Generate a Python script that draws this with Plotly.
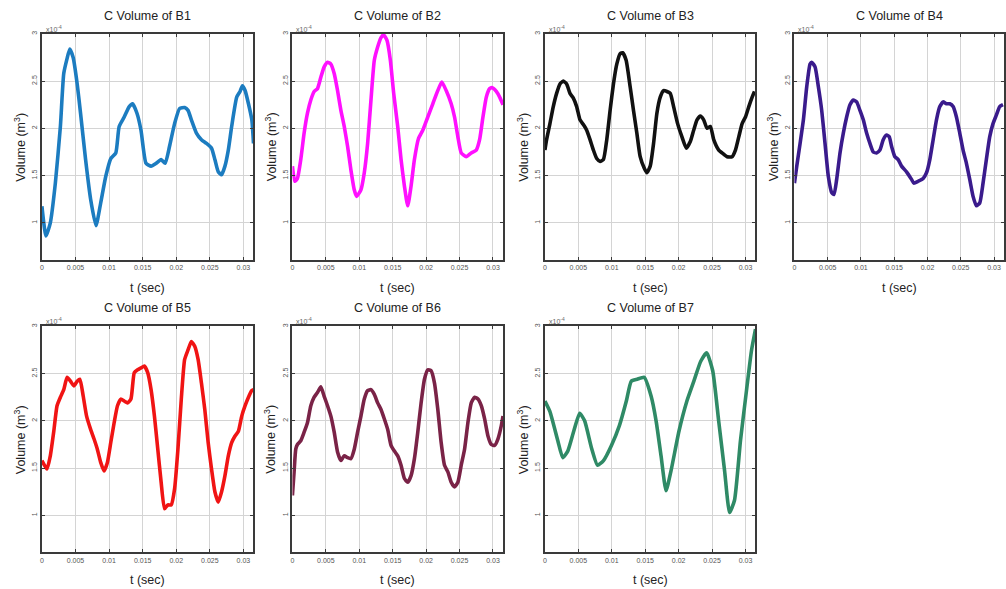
import plotly.graph_objects as go

# ---- data: chamber volume (x10^-4 m^3) against time (s) for branches B1..B7 ----
t_b1 = [0, 0.0006, 0.00125, 0.002, 0.00275, 0.00325, 0.00375, 0.00415, 0.00465, 0.00525,
        0.00575, 0.0065, 0.00725, 0.00805, 0.00875, 0.0095, 0.01025, 0.011, 0.0115, 0.01225,
        0.013, 0.0135, 0.01415, 0.01475, 0.0155, 0.01625, 0.017, 0.01775, 0.01835, 0.019,
        0.01975, 0.0205, 0.02125, 0.02175, 0.02225, 0.023, 0.02375, 0.0245, 0.02525, 0.02575,
        0.02625, 0.02675, 0.02725, 0.02775, 0.02825, 0.029, 0.0295, 0.02985, 0.03025, 0.03075,
        0.03125, 0.0315]
vol_b1 = [1.175, 0.86, 1.0, 1.42, 2.02, 2.58, 2.74, 2.84, 2.75, 2.47,
          2.16, 1.67, 1.25, 0.97, 1.21, 1.49, 1.68, 1.74, 2.02, 2.12,
          2.23, 2.26, 2.16, 1.98, 1.63, 1.60, 1.63, 1.67, 1.63, 1.81,
          2.05, 2.21, 2.22, 2.19, 2.09, 1.95, 1.88, 1.84, 1.79, 1.67,
          1.54, 1.51, 1.60, 1.77, 2.02, 2.33, 2.39, 2.45, 2.40, 2.26,
          2.09, 1.84]

t_b2 = [0, 0.00035, 0.00075, 0.00125, 0.00175, 0.00225, 0.00275, 0.00325, 0.00375, 0.00425,
        0.00475, 0.00525, 0.00575, 0.00625, 0.00675, 0.00725, 0.00775, 0.00825, 0.00875, 0.00925,
        0.0096, 0.01025, 0.01075, 0.01125, 0.01175, 0.01225, 0.01275, 0.01325, 0.01365, 0.01415,
        0.01465, 0.01515, 0.01575, 0.01625, 0.01675, 0.01725, 0.01775, 0.01825, 0.01885, 0.0195,
        0.02025, 0.021, 0.02175, 0.02235, 0.023, 0.02375, 0.02425, 0.02475, 0.02525, 0.026,
        0.02675, 0.0275, 0.028, 0.0285, 0.029, 0.0295, 0.0299, 0.0305, 0.031, 0.0315]
vol_b2 = [1.60, 1.44, 1.47, 1.67, 1.95, 2.16, 2.30, 2.39, 2.42, 2.54,
          2.65, 2.70, 2.68, 2.58, 2.40, 2.19, 2.02, 1.81, 1.56, 1.35,
          1.28, 1.35, 1.53, 1.84, 2.30, 2.72, 2.86, 2.96, 2.99, 2.93,
          2.72, 2.37, 2.02, 1.67, 1.39, 1.18, 1.39, 1.67, 1.89, 1.98,
          2.12, 2.26, 2.40, 2.49, 2.40, 2.26, 2.12, 1.91, 1.74, 1.70,
          1.74, 1.77, 1.88, 2.12, 2.33, 2.42, 2.43, 2.39, 2.33, 2.25]

t_b3 = [0, 0.00025, 0.00075, 0.00125, 0.00175, 0.00225, 0.00275, 0.00325, 0.00375, 0.00425,
        0.00475, 0.00525, 0.00575, 0.00625, 0.00675, 0.00725, 0.00775, 0.00825, 0.00875, 0.00925,
        0.00975, 0.01025, 0.01075, 0.01125, 0.01165, 0.01215, 0.01275, 0.01325, 0.01375, 0.01425,
        0.01485, 0.01525, 0.01575, 0.01625, 0.01675, 0.01725, 0.01775, 0.01825, 0.01875, 0.01925,
        0.01985, 0.0205, 0.02115, 0.02175, 0.02225, 0.02275, 0.02325, 0.02375, 0.02425, 0.02475,
        0.02525, 0.026, 0.0265, 0.02725, 0.028, 0.0285, 0.029, 0.0295, 0.03, 0.0305,
        0.031, 0.03135]
vol_b3 = [1.77, 1.88, 2.05, 2.23, 2.37, 2.47, 2.50, 2.47, 2.37, 2.32,
          2.23, 2.09, 2.04, 1.98, 1.88, 1.77, 1.68, 1.65, 1.67, 1.88,
          2.19, 2.47, 2.68, 2.79, 2.80, 2.72, 2.44, 2.19, 1.95, 1.70,
          1.58, 1.53, 1.60, 1.84, 2.16, 2.33, 2.40, 2.39, 2.37, 2.23,
          2.05, 1.91, 1.79, 1.86, 1.98, 2.09, 2.13, 2.09, 2.00, 2.02,
          1.88, 1.77, 1.74, 1.70, 1.70, 1.77, 1.91, 2.05, 2.12, 2.23,
          2.33, 2.39]

t_b4 = [0, 0.00035, 0.00085, 0.00135, 0.00185, 0.00235, 0.0026, 0.0031, 0.0036, 0.0041,
        0.0046, 0.0051, 0.0056, 0.00595, 0.00635, 0.00685, 0.00735, 0.00785, 0.00835, 0.00885,
        0.00935, 0.00985, 0.01035, 0.01085, 0.01135, 0.01185, 0.01235, 0.01285, 0.01335, 0.01385,
        0.01425, 0.0146, 0.0151, 0.0156, 0.0161, 0.01685, 0.0176, 0.01795, 0.0186, 0.01935,
        0.01985, 0.02035, 0.02085, 0.02135, 0.02185, 0.02235, 0.02285, 0.02335, 0.02385, 0.02435,
        0.02485, 0.02535, 0.02585, 0.02635, 0.02685, 0.02735, 0.02785, 0.02835, 0.02885, 0.02935,
        0.02985, 0.03035, 0.03085, 0.03135]
vol_b4 = [1.42, 1.60, 1.84, 2.09, 2.44, 2.68, 2.70, 2.65, 2.44, 2.19,
          1.84, 1.49, 1.32, 1.30, 1.46, 1.74, 1.95, 2.12, 2.25, 2.30,
          2.28, 2.19, 2.09, 1.95, 1.84, 1.75, 1.74, 1.77, 1.88, 1.93,
          1.91, 1.81, 1.70, 1.67, 1.60, 1.54, 1.46, 1.42, 1.44, 1.47,
          1.53, 1.67, 1.88, 2.09, 2.23, 2.28, 2.26, 2.26, 2.23, 2.12,
          1.95, 1.77, 1.63, 1.46, 1.28, 1.18, 1.21, 1.42, 1.67, 1.91,
          2.05, 2.14, 2.23, 2.25]

t_b5 = [0, 0.00075, 0.00125, 0.00175, 0.00225, 0.00275, 0.00325, 0.00375, 0.00425, 0.00475,
        0.00525, 0.00565, 0.00615, 0.00665, 0.00725, 0.00775, 0.00825, 0.00875, 0.00925, 0.00975,
        0.01025, 0.01075, 0.01125, 0.01175, 0.01225, 0.01275, 0.01325, 0.01375, 0.01425, 0.01475,
        0.01525, 0.01575, 0.01625, 0.01675, 0.01725, 0.01775, 0.01825, 0.01875, 0.01925, 0.01975,
        0.02025, 0.02075, 0.02125, 0.02175, 0.02225, 0.02275, 0.02325, 0.02375, 0.02425, 0.02475,
        0.02525, 0.02575, 0.02625, 0.02675, 0.02725, 0.02775, 0.02825, 0.02875, 0.02925, 0.02975,
        0.03025, 0.03075, 0.03125, 0.0315]
vol_b5 = [1.58, 1.49, 1.63, 1.88, 2.16, 2.25, 2.33, 2.46, 2.42, 2.37,
          2.42, 2.44, 2.26, 2.05, 1.91, 1.81, 1.70, 1.56, 1.47, 1.56,
          1.77, 1.98, 2.16, 2.23, 2.21, 2.19, 2.23, 2.51, 2.54, 2.56,
          2.58, 2.51, 2.33, 2.05, 1.70, 1.35, 1.07, 1.11, 1.11, 1.28,
          1.70, 2.23, 2.65, 2.75, 2.84, 2.79, 2.65, 2.40, 2.12, 1.77,
          1.49, 1.25, 1.14, 1.25, 1.42, 1.63, 1.77, 1.84, 1.89, 2.05,
          2.16, 2.25, 2.32, 2.33]

t_b6 = [0, 0.00025, 0.0005, 0.00075, 0.00125, 0.00175, 0.00225, 0.00275, 0.00325, 0.00375,
        0.00425, 0.00475, 0.00525, 0.00575, 0.00625, 0.00675, 0.00725, 0.00775, 0.00825, 0.00875,
        0.00925, 0.00975, 0.01025, 0.01075, 0.01125, 0.01175, 0.01225, 0.01275, 0.01325, 0.01375,
        0.01425, 0.01475, 0.01525, 0.01575, 0.01625, 0.01675, 0.01725, 0.01775, 0.01825, 0.01875,
        0.01925, 0.01975, 0.02025, 0.02075, 0.02125, 0.02175, 0.02225, 0.02275, 0.02325, 0.02375,
        0.02425, 0.02475, 0.02525, 0.02575, 0.02625, 0.02675, 0.02725, 0.02775, 0.02825, 0.02875,
        0.02925, 0.02975, 0.03025, 0.03075, 0.03125, 0.0315]
vol_b6 = [1.21, 1.46, 1.70, 1.75, 1.79, 1.88, 1.98, 2.16, 2.25, 2.30,
          2.36, 2.26, 2.16, 2.05, 1.88, 1.67, 1.58, 1.63, 1.61, 1.60,
          1.70, 1.88, 2.05, 2.23, 2.32, 2.33, 2.28, 2.19, 2.12, 2.02,
          1.91, 1.74, 1.68, 1.63, 1.53, 1.39, 1.35, 1.42, 1.60, 1.88,
          2.19, 2.44, 2.54, 2.53, 2.40, 2.12, 1.77, 1.53, 1.46, 1.35,
          1.30, 1.35, 1.53, 1.70, 1.98, 2.19, 2.25, 2.23, 2.16, 2.02,
          1.84, 1.75, 1.74, 1.81, 1.95, 2.05]

t_b7 = [0, 0.00074, 0.00193, 0.00267, 0.00342, 0.00431, 0.0052, 0.00594, 0.00698, 0.00787,
        0.00876, 0.00995, 0.01114, 0.01218, 0.01292, 0.01381, 0.01485, 0.01589, 0.01663, 0.01737,
        0.01812, 0.01886, 0.02005, 0.02124, 0.02228, 0.02331, 0.0242, 0.0251, 0.02599, 0.02688,
        0.02762, 0.02836, 0.02925, 0.03015, 0.03089, 0.0315]
vol_b7 = [2.21, 2.10, 1.79, 1.61, 1.68, 1.89, 2.08, 2.00, 1.71, 1.53,
          1.58, 1.74, 1.95, 2.21, 2.42, 2.44, 2.46, 2.26, 2.00, 1.63,
          1.26, 1.47, 1.89, 2.21, 2.42, 2.63, 2.72, 2.53, 2.00, 1.47,
          1.03, 1.16, 1.79, 2.32, 2.74, 2.97]

series_names = ["B1", "B2", "B3", "B4", "B5", "B6", "B7"]
series_t = [t_b1, t_b2, t_b3, t_b4, t_b5, t_b6, t_b7]
series_v = [vol_b1, vol_b2, vol_b3, vol_b4, vol_b5, vol_b6, vol_b7]
series_colors = ["#1c7cc0", "#ff10ff", "#111111", "#3a1b8c", "#f01414", "#7a2347", "#2f8a66"]

x_tick_vals = [0, 0.005, 0.01, 0.015, 0.02, 0.025, 0.03]
x_tick_text = ["0", "0.005", "0.01", "0.015", "0.02", "0.025", "0.03"]
y_tick_vals = [1, 1.5, 2, 2.5, 3]
y_tick_text = ["1", "1.5", "2", "2.5", "3"]

# ---- layout geometry (pixels in a 1006 x 589 canvas) ----
W, H = 1006, 589
col_px = [(40, 252), (291, 502), (544, 755), (794, 1004)]
row_px = [(31, 258), (325, 552)]

FONT = "Liberation Sans Narrow, Liberation Sans, Arial, sans-serif"
LABEL_FONT = dict(family=FONT, size=12.5, color="#222222")

fig = go.Figure()
annotations = []


def note(text, px, py, **kw):
    """Place a text annotation at a pixel position of the canvas."""
    base = dict(text=text, x=px / W, y=1 - py / H, xref="paper", yref="paper",
                showarrow=False, xanchor="center", yanchor="middle", font=LABEL_FONT)
    base.update(kw)
    annotations.append(base)


for i, name in enumerate(series_names):
    r, c = divmod(i, 4)
    x0, x1 = col_px[c]
    y0, y1 = row_px[r]
    ax = "" if i == 0 else str(i + 1)

    fig.add_trace(go.Scatter(
        x=series_t[i], y=series_v[i], mode="lines",
        line=dict(color=series_colors[i], width=3.6, shape="spline", smoothing=0.5),
        xaxis="x" + ax, yaxis="y" + ax, showlegend=False,
    ))

    common = dict(
        showline=True, linecolor="#3a3a3a", linewidth=2, mirror="ticks",
        ticks="inside", ticklen=3, tickcolor="#3a3a3a",
        showgrid=True, gridcolor="#d4d4d4", gridwidth=1, zeroline=False,
        tickfont=dict(family=FONT, size=7, color="#555555"),
    )
    fig.update_layout(**{
        "xaxis" + ax: dict(common, domain=[x0 / W, x1 / W], range=[0, 0.0315],
                           tickvals=x_tick_vals, ticktext=x_tick_text,
                           anchor="y" + ax),
        "yaxis" + ax: dict(common, domain=[1 - y1 / H, 1 - y0 / H], range=[0.61, 3.0],
                           tickvals=y_tick_vals, ticktext=y_tick_text, tickangle=-90,
                           anchor="x" + ax),
    })

    cx = (x0 + x1) / 2
    cy = (y0 + y1) / 2
    note("C Volume of " + name, cx, y0 - 18)
    note("t (sec)", cx, y1 + 28)
    note("Volume (m<sup>3</sup>)", x0 - 22, cy, textangle=-90)
    note("x10<sup>-4</sup>", x0 + 2, y0 - 5, xanchor="left",
         font=dict(family=FONT, size=7, color="#666666"))

fig.update_layout(
    width=W, height=H,
    margin=dict(l=0, r=0, t=0, b=0),
    paper_bgcolor="white", plot_bgcolor="white",
    annotations=annotations,
)

fig.write_html("out.html")
